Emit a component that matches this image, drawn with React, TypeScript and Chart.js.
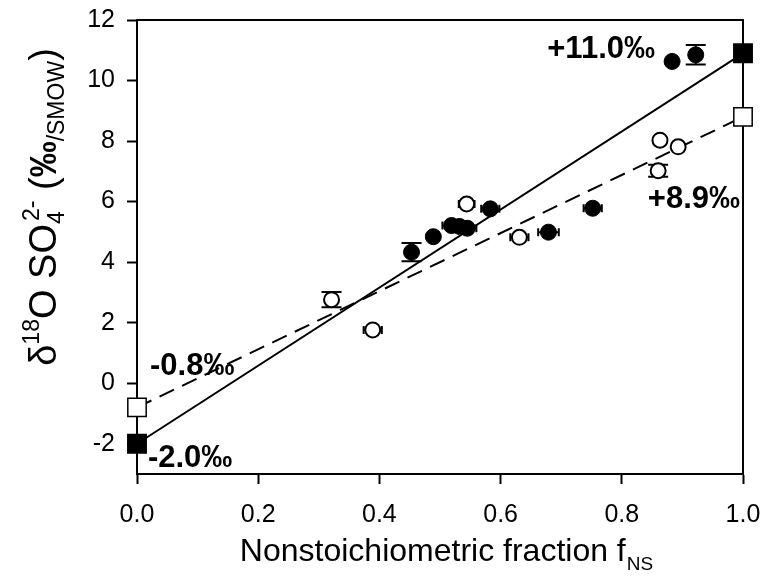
import React, { useEffect, useRef } from "react";
import { Chart, registerables } from "chart.js";

Chart.register(...registerables);

// ---- data ----
const xTicks = [0, 0.2, 0.4, 0.6, 0.8, 1.0];
const yTicks = [-2, 0, 2, 4, 6, 8, 10, 12];

// filled circles (series 1)
const filledX = [0.453, 0.489, 0.519, 0.532, 0.545, 0.583, 0.679, 0.752, 0.883, 0.922];
const filledY = [4.33, 4.84, 5.21, 5.18, 5.12, 5.76, 4.99, 5.78, 10.63, 10.85];
const filledYErr = [0.3, 0, 0, 0, 0, 0, 0, 0, 0, 0.32];
const filledXErr = [0, 0, 0.015, 0, 0.015, 0.015, 0.017, 0.015, 0, 0];

// open circles (series 2)
const openX = [0.321, 0.389, 0.544, 0.631, 0.86, 0.863, 0.893];
const openY = [2.76, 1.76, 5.92, 4.82, 7.02, 8.03, 7.81];
const openYErr = [0.25, 0, 0, 0, 0.2, 0, 0];
const openXErr = [0, 0.015, 0.013, 0.015, 0, 0, 0];

// end-members
const endX = [0, 1];
const filledEndY = [-2.0, 10.9];
const openEndY = [-0.8, 8.8];

// annotations
const annoText = ["+11.0‰", "+8.9‰", "-0.8‰", "-2.0‰"];
const annoX = [0.677, 0.843, 0.0215, 0.018];
const annoY = [10.74, 5.79, 0.27, -2.77];

const FONT = "'Liberation Sans', Arial, sans-serif";

const pts = (xs: number[], ys: number[]) => xs.map((v, i) => ({ x: v, y: ys[i] }));

const decorPlugin = {
  id: "decor",
  beforeDatasetsDraw(chart: any) {
    const { ctx, chartArea: a, scales } = chart;
    const x = scales.x;
    const y = scales.y;
    ctx.save();
    ctx.strokeStyle = "#000";
    ctx.lineWidth = 2;
    ctx.beginPath();
    ctx.moveTo(a.left, a.top);
    ctx.lineTo(a.right, a.top);
    ctx.lineTo(a.right, a.bottom);
    ctx.stroke();

    const drawErr = (xs: number[], ys: number[], xe: number[], ye: number[]) => {
      ctx.lineWidth = 2;
      xs.forEach((xv, i) => {
        const px = x.getPixelForValue(xv);
        const py = y.getPixelForValue(ys[i]);
        if (ye[i] > 0) {
          const t = y.getPixelForValue(ys[i] + ye[i]);
          const b = y.getPixelForValue(ys[i] - ye[i]);
          ctx.beginPath();
          ctx.moveTo(px, t);
          ctx.lineTo(px, b);
          ctx.moveTo(px - 10, t);
          ctx.lineTo(px + 10, t);
          ctx.moveTo(px - 10, b);
          ctx.lineTo(px + 10, b);
          ctx.stroke();
        }
        if (xe[i] > 0) {
          const l = x.getPixelForValue(xv - xe[i]);
          const r = x.getPixelForValue(xv + xe[i]);
          ctx.beginPath();
          ctx.moveTo(l, py);
          ctx.lineTo(r, py);
          ctx.moveTo(l, py - 4);
          ctx.lineTo(l, py + 4);
          ctx.moveTo(r, py - 4);
          ctx.lineTo(r, py + 4);
          ctx.stroke();
        }
      });
    };
    drawErr(filledX, filledY, filledXErr, filledYErr);
    drawErr(openX, openY, openXErr, openYErr);
    ctx.restore();
  },
  afterDraw(chart: any) {
    const { ctx, chartArea: a, scales } = chart;
    const x = scales.x;
    const y = scales.y;
    ctx.save();
    ctx.fillStyle = "#000";
    ctx.textBaseline = "alphabetic";
    ctx.textAlign = "left";

    // annotations
    ctx.font = `bold 31px ${FONT}`;
    annoText.forEach((t, i) => {
      ctx.fillText(t, x.getPixelForValue(annoX[i]), y.getPixelForValue(annoY[i]));
    });

    // x title
    const main = "Nonstoichiometric fraction f";
    const sub = "NS";
    ctx.font = `32px ${FONT}`;
    const wMain = ctx.measureText(main).width;
    ctx.font = `19px ${FONT}`;
    const wSub = ctx.measureText(sub).width;
    const cx = (a.left + a.right) / 2 + 6;
    const startX = cx - (wMain + wSub) / 2;
    const baseY = 561;
    ctx.font = `32px ${FONT}`;
    ctx.fillText(main, startX, baseY);
    ctx.font = `19px ${FONT}`;
    ctx.fillText(sub, startX + wMain + 1, baseY + 9);

    // y title (rotated)
    type Piece = { t: string; size: number; dy: number; bold?: boolean; dx?: number; noAdvance?: boolean };
    const pieces: Piece[] = [
      { t: "δ", size: 38, dy: 0 },
      { t: "18", size: 23, dy: -17 },
      { t: "O", size: 38, dy: 0 },
      { t: " SO", size: 38, dy: 0 },
      { t: "4", size: 23, dy: 8, noAdvance: true },
      { t: "2-", size: 23, dy: -17, dx: 3 },
      { t: " (", size: 38, dy: 0 },
      { t: "‰", size: 36, dy: 0, bold: true },
      { t: "/SMOW", size: 23, dy: 8 },
      { t: ")", size: 38, dy: 0 },
    ];
    let total = 0;
    pieces.forEach((p) => {
      ctx.font = `${p.bold ? "bold " : ""}${p.size}px ${FONT}`;
      if (!p.noAdvance) total += ctx.measureText(p.t).width + (p.dx || 0);
    });
    const centerY = 207;
    ctx.translate(56, centerY + total / 2);
    ctx.rotate(-Math.PI / 2);
    let px = 0;
    pieces.forEach((p) => {
      ctx.font = `${p.bold ? "bold " : ""}${p.size}px ${FONT}`;
      ctx.fillText(p.t, px + (p.dx || 0), p.dy);
      if (!p.noAdvance) px += ctx.measureText(p.t).width + (p.dx || 0);
    });
    ctx.restore();
  },
};

export default function App() {
  const ref = useRef<HTMLCanvasElement | null>(null);
  useEffect(() => {
    if (!ref.current) return;
    const chart = new Chart(ref.current, {
      type: "scatter",
      data: {
        datasets: [
          {
            data: pts(endX, filledEndY),
            showLine: true,
            borderColor: "#000",
            borderWidth: 2,
            pointRadius: 0,
            order: 5,
            clip: false,
          } as any,
          {
            data: pts(endX, openEndY),
            showLine: true,
            borderColor: "#000",
            borderWidth: 2,
            borderDash: [16, 9],
            pointRadius: 0,
            order: 5,
            clip: false,
          } as any,
          {
            data: pts(openX, openY),
            pointStyle: "circle",
            pointRadius: 7.5,
            backgroundColor: "#fff",
            borderColor: "#000",
            borderWidth: 2,
            order: 2,
            clip: false,
          } as any,
          {
            data: pts(filledX, filledY),
            pointStyle: "circle",
            pointRadius: 8,
            backgroundColor: "#000",
            borderColor: "#000",
            borderWidth: 1,
            order: 2,
            clip: false,
          } as any,
          {
            data: pts(endX, filledEndY),
            pointStyle: "rect",
            pointRadius: 13,
            backgroundColor: "#000",
            borderColor: "#000",
            borderWidth: 1.5,
            order: 1,
            clip: false,
          } as any,
          {
            data: pts(endX, openEndY),
            pointStyle: "rect",
            pointRadius: 13,
            backgroundColor: "#fff",
            borderColor: "#000",
            borderWidth: 1.5,
            order: 1,
            clip: false,
          } as any,
        ],
      },
      options: {
        animation: false,
        responsive: true,
        maintainAspectRatio: false,
        layout: { padding: { top: 20, right: 25, left: 0, bottom: 0 } },
        plugins: { legend: { display: false }, tooltip: { enabled: false } },
        scales: {
          x: {
            type: "linear",
            min: 0,
            max: 1,
            afterBuildTicks: (s: any) => {
              s.ticks = xTicks.map((v) => ({ value: v }));
            },
            afterFit: (s: any) => {
              s.height = 107;
              s.paddingLeft = 0;
              s.paddingRight = 0;
            },
            grid: { drawOnChartArea: false, drawTicks: true, tickLength: 10, tickWidth: 2, tickColor: "#000" },
            border: { display: true, color: "#000", width: 2 },
            ticks: {
              color: "#000",
              font: { family: FONT, size: 25 },
              padding: 16,
              maxRotation: 0,
              callback: (v: any) => Number(v).toFixed(1),
            },
          },
          y: {
            type: "linear",
            min: -3,
            max: 12,
            afterBuildTicks: (s: any) => {
              s.ticks = yTicks.map((v) => ({ value: v }));
            },
            afterFit: (s: any) => {
              s.width = 137;
              s.paddingTop = 0;
              s.paddingBottom = 0;
            },
            grid: { drawOnChartArea: false, drawTicks: true, tickLength: 10, tickWidth: 2, tickColor: "#000" },
            border: { display: true, color: "#000", width: 2 },
            ticks: {
              color: "#000",
              font: { family: FONT, size: 25 },
              padding: 12,
              callback: (v: any) => String(v),
            },
          },
        },
      },
      plugins: [decorPlugin],
    });
    return () => chart.destroy();
  }, []);
  return (
    <div style={{ position: "fixed", left: 0, top: 0, width: 768, height: 581, background: "#fff" }}>
      <canvas ref={ref} />
    </div>
  );
}
